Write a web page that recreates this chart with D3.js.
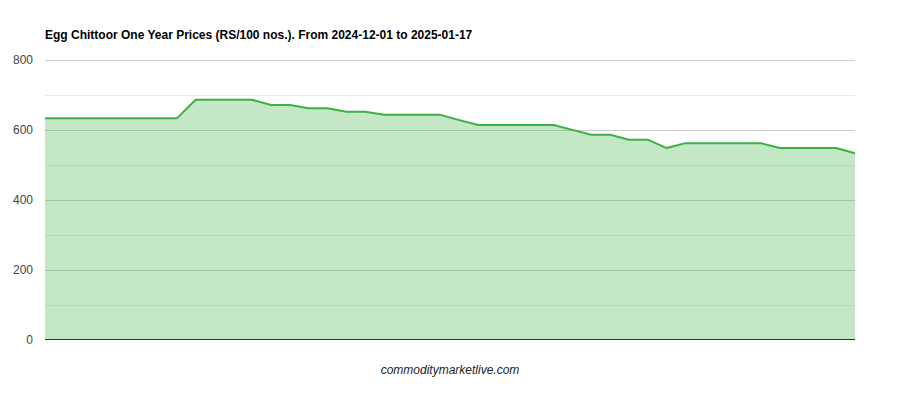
<!DOCTYPE html>
<html><head><meta charset="utf-8">
<script src="https://cdn.jsdelivr.net/npm/d3@7"></script>
<style>body{margin:0;background:#fff}svg{display:block}</style>
</head><body>
<svg id="c" width="900" height="400"></svg>
<script>
const titleText = "Egg Chittoor One Year Prices (RS/100 nos.). From 2024-12-01 to 2025-01-17";
const footerText = "commoditymarketlive.com";
const categories = d3.range(1, 45).map(String);
const prices = [633,633,633,633,633,633,633,633,686,686,686,686,671,671,662,662,652,652,643,643,643,643,628,614,614,614,614,614,600,586,586,572,572,548,562,562,562,562,562,548,548,548,548,533];
const majorTicks = [0,200,400,600,800];
const minorTicks = [100,300,500,700];

const svg = d3.select("#c");
const L = 45, R = 855, T = 60, B = 339.5;
const x = d3.scalePoint().domain(categories).range([L, R]);
const y = d3.scaleLinear().domain([0, 800]).range([B, T]);

svg.append("text").attr("x", 45).attr("y", 39).attr("font-family", "Arial, 'Liberation Sans', sans-serif")
  .attr("font-size", 12).attr("font-weight", "bold").attr("fill", "#000").text(titleText);

svg.append("g").selectAll("line").data(minorTicks).join("line")
  .attr("x1", L).attr("x2", R).attr("y1", d => Math.round(y(d)) + 0.5).attr("y2", d => Math.round(y(d)) + 0.5)
  .attr("stroke", "#ebebeb").attr("stroke-width", 1);
svg.append("g").selectAll("line").data(majorTicks.filter(d => d > 0)).join("line")
  .attr("x1", L).attr("x2", R).attr("y1", d => Math.round(y(d)) + 0.5).attr("y2", d => Math.round(y(d)) + 0.5)
  .attr("stroke", "#cccccc").attr("stroke-width", 1);

const data = categories.map((c, i) => ({c, v: prices[i]}));
svg.append("path").datum(data)
  .attr("d", d3.area().x(d => x(d.c)).y0(y(0)).y1(d => y(d.v)))
  .attr("fill", "#3cb043").attr("fill-opacity", 0.3);
svg.append("path").datum(data)
  .attr("d", d3.line().x(d => x(d.c)).y(d => y(d.v)))
  .attr("fill", "none").attr("stroke", "#3cb043").attr("stroke-width", 2).attr("stroke-linejoin", "round");

svg.append("line").attr("x1", L).attr("x2", R).attr("y1", y(0)).attr("y2", y(0))
  .attr("stroke", "#333").attr("stroke-width", 1);

const yAxis = d3.axisLeft(y).tickValues(majorTicks).tickSize(0).tickPadding(12).tickFormat(d3.format("d"));
const ga = svg.append("g").attr("transform", `translate(${L},0)`).call(yAxis);
ga.select(".domain").remove();
ga.selectAll("text").attr("font-family", "Arial, 'Liberation Sans', sans-serif").attr("font-size", 12).attr("fill", "#444");

svg.append("text").attr("x", 450).attr("y", 374).attr("text-anchor", "middle")
  .attr("font-family", "Arial, 'Liberation Sans', sans-serif").attr("font-size", 12).attr("font-style", "italic")
  .attr("fill", "#222").text(footerText);
</script>
</body></html>
